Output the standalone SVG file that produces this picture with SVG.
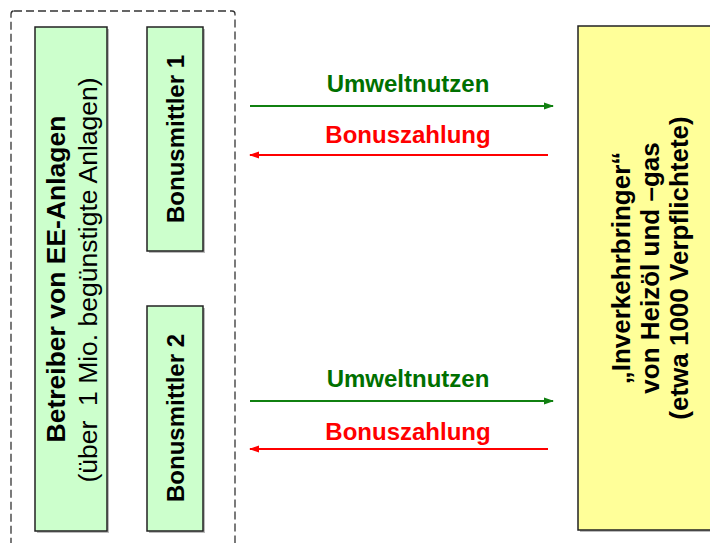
<svg xmlns="http://www.w3.org/2000/svg" width="710" height="543" viewBox="0 0 710 543">
<defs>
<style>
.box{stroke:#222;stroke-width:1.5}
.shadow{fill:#bbb}
.green{fill:#ccffcc}
.yellow{fill:#ffff99}
.t{font-family:"Liberation Sans",Arial,sans-serif;font-weight:bold;text-anchor:middle;fill:#000}
.r{font-weight:normal}
.lg{fill:#007000;font-size:24px}
.lr{fill:#ff0000;font-size:24px}
.ag{stroke:#108010;stroke-width:2;fill:none}
.ar{stroke:#ff0000;stroke-width:2;fill:none}
</style>
<marker id="mg" markerWidth="10" markerHeight="8" refX="9" refY="4" orient="auto" markerUnits="userSpaceOnUse"><path d="M0,0.5 L10,4 L0,7.5 z" fill="#108010"/></marker>
<marker id="mr" markerWidth="10" markerHeight="8" refX="9" refY="4" orient="auto" markerUnits="userSpaceOnUse"><path d="M0,0.5 L10,4 L0,7.5 z" fill="#ff0000"/></marker>
</defs>
<rect x="11" y="11" width="224" height="545" rx="3" fill="none" stroke="#333" stroke-width="1.3" stroke-dasharray="8,4"/>
<g id="betreiber">
<rect class="shadow" x="37" y="29" width="72" height="504"/>
<rect class="box green" x="35" y="27" width="72" height="504"/>
<text class="t" font-size="26.5" transform="translate(65,279) rotate(-90)">Betreiber von EE-Anlagen</text>
<text class="t r" font-size="26.5" xml:space="preserve" transform="translate(97,280) rotate(-90)">(über  1 Mio. begünstigte Anlagen)</text>
</g>
<g id="bonusmittler1">
<rect class="shadow" x="149" y="29" width="56" height="224"/>
<rect class="box green" x="147" y="27" width="56" height="224"/>
<text class="t" font-size="24" transform="translate(184,139) rotate(-90)">Bonusmittler 1</text>
</g>
<g id="bonusmittler2">
<rect class="shadow" x="149" y="308" width="56" height="225"/>
<rect class="box green" x="147" y="306" width="56" height="225"/>
<text class="t" font-size="24" transform="translate(184,418) rotate(-90)">Bonusmittler 2</text>
</g>
<g id="inverkehrbringer">
<rect class="shadow" x="580" y="28" width="140" height="504"/>
<rect class="box yellow" x="578" y="26" width="140" height="504"/>
<text class="t" font-size="26" transform="translate(630,268) rotate(-90)">„Inverkehrbringer“</text>
<text class="t" font-size="26" transform="translate(659,268) rotate(-90)">von Heizöl und –gas</text>
<text class="t" font-size="26" transform="translate(688,268) rotate(-90)">(etwa 1000 Verpflichtete)</text>
</g>
<g id="connectors">
<line class="ag" x1="250" y1="106" x2="553" y2="106" marker-end="url(#mg)"/>
<line class="ar" x1="548" y1="155" x2="250" y2="155" marker-end="url(#mr)"/>
<line class="ag" x1="250" y1="401" x2="553" y2="401" marker-end="url(#mg)"/>
<line class="ar" x1="548" y1="449" x2="250" y2="449" marker-end="url(#mr)"/>
<text class="t lg" x="408" y="92">Umweltnutzen</text>
<text class="t lr" x="408" y="143">Bonuszahlung</text>
<text class="t lg" x="408" y="387">Umweltnutzen</text>
<text class="t lr" x="408" y="440">Bonuszahlung</text>
</g>
</svg>
